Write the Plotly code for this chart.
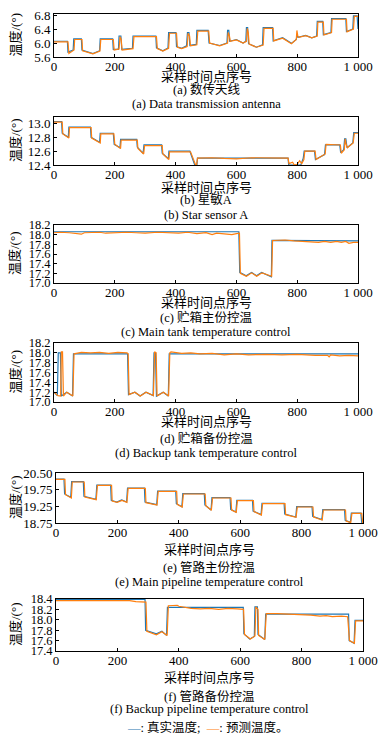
import plotly.graph_objects as go

# ---------------- data ----------------
X_TICKS = [0, 200, 400, 600, 800, 1000]
X_TICKTEXT = ["0", "200", "400", "600", "800", "1 000"]

# (a) 数传天线
A_X_TRUE = [0, 44, 46, 60, 63, 65, 90, 92, 128, 150, 152, 193, 195, 212, 214, 220, 223, 258, 260, 335, 337, 358, 375, 377,
            401, 403, 420, 436, 439, 444, 447, 468, 470, 507, 510, 545, 569, 571, 575, 578, 600, 622, 631, 633, 637, 640,
            666, 686, 688, 719, 721, 752, 781, 797, 799, 803, 828, 848, 864, 866, 884, 886, 911, 913, 960, 962, 983, 985,
            997, 1000]
A_Y_TRUE = [6.05, 6.05, 5.74, 5.8, 5.8, 6.12, 6.12, 5.8, 5.7, 5.78, 6.12, 6.12, 5.82, 5.82, 6.2, 6.2, 5.82, 5.85, 6.2, 6.2,
            5.86, 5.78, 5.86, 6.3, 6.3, 5.9, 5.85, 5.92, 6.3, 6.3, 5.93, 5.96, 6.36, 6.36, 6.0, 5.93, 6.0, 6.36, 6.36, 6.05,
            6.1, 6.0, 6.05, 6.44, 6.44, 5.98, 5.88, 5.95, 6.44, 6.44, 6.06, 6.15, 5.99, 6.1, 6.22, 6.16, 6.22, 6.15, 6.2,
            6.62, 6.62, 6.24, 6.3, 6.7, 6.7, 6.33, 6.4, 6.78, 6.78, 6.4]
A_X_PRED = [0, 46, 49, 62, 66, 68, 92, 94, 128, 151, 154, 195, 198, 214, 217, 221, 224, 260, 263, 337, 340, 358, 377, 380,
            403, 406, 420, 438, 441, 446, 449, 470, 473, 509, 512, 545, 571, 573, 577, 580, 600, 622, 633, 636, 639, 642,
            666, 688, 691, 721, 723, 752, 781, 797, 799, 802, 805, 828, 848, 866, 868, 886, 888, 913, 915, 962, 964, 985,
            988, 1000]
A_Y_PRED = [6.03, 6.03, 5.7, 5.78, 5.8, 6.1, 6.1, 5.78, 5.69, 5.77, 6.1, 6.1, 5.8, 5.83, 6.18, 6.1, 5.8, 5.84, 6.18, 6.18,
            5.84, 5.77, 5.85, 6.28, 6.28, 5.88, 5.84, 5.9, 6.28, 6.2, 5.92, 5.95, 6.34, 6.34, 6.0, 5.92, 6.0, 6.3, 6.2, 6.05,
            6.09, 6.0, 6.05, 6.42, 6.3, 5.97, 5.88, 5.94, 6.42, 6.42, 6.06, 6.14, 5.98, 6.1, 6.36, 6.2, 6.16, 6.21, 6.15,
            6.2, 6.6, 6.6, 6.23, 6.3, 6.68, 6.68, 6.32, 6.4, 6.76, 6.76]

# (b) 星敏A
B_X_TRUE = [0, 25, 27, 47, 49, 120, 122, 150, 152, 195, 198, 217, 219, 272, 274, 293, 296, 354, 356, 376, 378, 447, 463,
            470, 472, 770, 772, 812, 820, 823, 857, 860, 890, 893, 940, 943, 953, 956, 960, 964, 983, 986, 1000]
B_Y_TRUE = [13.03, 13.03, 12.86, 12.8, 12.95, 12.95, 12.8, 12.73, 12.86, 12.86, 12.7, 12.65, 12.77, 12.77, 12.66, 12.57,
            12.69, 12.69, 12.57, 12.49, 12.6, 12.6, 12.4, 12.4, 12.5, 12.5, 12.4, 12.4, 12.5, 12.6, 12.6, 12.48, 12.55,
            12.69, 12.69, 12.58, 12.62, 12.78, 12.78, 12.65, 12.72, 12.87, 12.87]
B_X_PRED = [0, 27, 29, 49, 51, 122, 124, 152, 154, 197, 200, 219, 221, 274, 276, 295, 298, 356, 358, 378, 380, 449, 465,
            469, 472, 520, 560, 600, 650, 700, 740, 770, 773, 785, 790, 800, 808, 815, 822, 825, 859, 862, 892, 895, 942,
            945, 955, 958, 961, 965, 984, 988, 1000]
B_Y_PRED = [13.02, 13.02, 12.85, 12.79, 12.94, 12.94, 12.79, 12.72, 12.85, 12.85, 12.7, 12.64, 12.76, 12.76, 12.64, 12.56,
            12.68, 12.68, 12.56, 12.48, 12.59, 12.59, 12.41, 12.4, 12.5, 12.505, 12.495, 12.49, 12.505, 12.5, 12.495,
            12.5, 12.42, 12.44, 12.4, 12.41, 12.46, 12.42, 12.48, 12.6, 12.6, 12.48, 12.56, 12.7, 12.69, 12.57, 12.62,
            12.78, 12.7, 12.65, 12.72, 12.86, 12.86]

# (c) 贮箱主份控温
C_X_TRUE = [0, 608, 611, 632, 650, 666, 683, 715, 717, 1000]
C_Y_TRUE = [18.06, 18.06, 17.22, 17.15, 17.22, 17.15, 17.22, 17.13, 17.88, 17.87]
C_X_PRED = [0, 20, 50, 80, 90, 100, 150, 170, 200, 240, 270, 300, 340, 380, 410, 440, 470, 500, 520, 535, 560, 585, 600,
            610, 613, 633, 650, 667, 684, 716, 719, 760, 790, 820, 850, 870, 890, 910, 930, 945, 960, 970, 985, 1000]
C_Y_PRED = [18.04, 18.05, 18.04, 18.02, 18.01, 18.04, 18.05, 18.03, 18.04, 18.05, 18.04, 18.03, 18.05, 18.04, 18.03,
            18.05, 18.02, 18.04, 18.0, 18.03, 18.01, 18.0, 18.02, 18.03, 17.2, 17.14, 17.21, 17.14, 17.21, 17.14, 17.88,
            17.89, 17.87, 17.86, 17.86, 17.84, 17.86, 17.84, 17.86, 17.84, 17.86, 17.82, 17.84, 17.84]

# (d) 贮箱备份控温
D_X_TRUE = [0, 11, 14, 21, 24, 42, 61, 64, 242, 245, 266, 283, 302, 326, 329, 334, 337, 359, 376, 379, 1000]
D_Y_TRUE = [17.2, 17.13, 18.0, 18.0, 17.12, 17.2, 17.12, 17.98, 17.98, 17.15, 17.2, 17.12, 17.2, 17.13, 18.0, 18.0,
            17.12, 17.2, 17.12, 17.98, 17.98]
D_X_PRED = [0, 13, 22, 24, 28, 31, 42, 62, 66, 90, 120, 150, 180, 210, 240, 244, 247, 266, 284, 303, 327, 331, 336, 339,
            360, 377, 381, 385, 420, 450, 480, 520, 560, 600, 640, 700, 750, 800, 860, 900, 905, 910, 940, 970, 1000]
D_Y_PRED = [17.2, 17.13, 17.12, 18.02, 18.02, 17.12, 17.2, 17.12, 17.98, 18.01, 18.0, 18.01, 17.99, 18.01, 18.0, 17.98,
            17.15, 17.2, 17.12, 17.2, 17.13, 18.02, 18.0, 17.12, 17.2, 17.12, 18.0, 18.02, 17.99, 18.0, 17.98, 17.99,
            17.96, 17.98, 17.96, 17.97, 17.96, 17.97, 17.95, 17.95, 17.92, 17.96, 17.94, 17.95, 17.94]

# (e) 管路主份控温
E_TICKVALS = [18.75, 19.25, 19.75, 20.25]
E_TICKTEXT = ["18.75", "19.25", "19.75", "20.50"]
E_X_TRUE = [0, 26, 28, 48, 51, 89, 91, 130, 133, 178, 180, 198, 214, 230, 233, 288, 290, 328, 331, 390, 392, 410, 413,
            483, 485, 505, 508, 567, 569, 586, 589, 640, 642, 668, 671, 743, 745, 781, 784, 834, 836, 866, 869, 940,
            942, 959, 962, 993, 996]
E_Y_TRUE = [20.07, 20.07, 19.62, 19.52, 19.99, 19.99, 19.55, 19.46, 19.89, 19.89, 19.43, 19.38, 19.44, 19.38, 19.8,
            19.8, 19.38, 19.3, 19.71, 19.71, 19.33, 19.24, 19.63, 19.63, 19.29, 19.14, 19.51, 19.51, 19.16, 19.08,
            19.43, 19.43, 19.11, 19.0, 19.34, 19.34, 19.02, 18.93, 19.24, 19.24, 18.95, 18.85, 19.15, 19.15, 18.83,
            18.77, 19.05, 19.05, 18.75]
E_X_PRED = [0, 29, 31, 50, 53, 92, 94, 131, 135, 181, 183, 199, 215, 231, 235, 291, 293, 329, 333, 393, 395, 411, 415,
            486, 488, 506, 510, 570, 572, 587, 591, 643, 645, 669, 673, 746, 748, 782, 786, 837, 839, 867, 871, 943,
            945, 960, 964, 996, 999]
E_Y_PRED = [20.06, 20.06, 19.6, 19.5, 19.98, 19.98, 19.53, 19.45, 19.88, 19.88, 19.41, 19.37, 19.43, 19.37, 19.79,
            19.79, 19.36, 19.29, 19.7, 19.7, 19.31, 19.23, 19.62, 19.62, 19.27, 19.13, 19.5, 19.5, 19.14, 19.07,
            19.42, 19.42, 19.09, 18.99, 19.33, 19.33, 19.0, 18.92, 19.23, 19.23, 18.93, 18.84, 19.14, 19.14, 18.81,
            18.76, 19.04, 19.04, 18.75]

# (f) 管路备份控温
F_X_TRUE = [0, 290, 292, 327, 345, 360, 363, 610, 612, 631, 646, 648, 656, 658, 680, 683, 953, 955, 971, 974, 1000]
F_Y_TRUE = [18.39, 18.39, 17.8, 17.73, 17.78, 17.7, 18.24, 18.24, 17.73, 17.63, 17.68, 18.25, 18.25, 17.72, 17.62,
            18.11, 18.11, 17.6, 17.55, 17.99, 17.99]
F_X_PRED = [0, 40, 60, 100, 150, 200, 240, 260, 288, 293, 296, 327, 345, 362, 366, 395, 400, 420, 440, 470, 500, 530,
            560, 590, 611, 614, 633, 648, 651, 658, 660, 680, 685, 720, 760, 800, 830, 860, 880, 900, 930, 950, 956,
            972, 976, 1000]
F_Y_PRED = [18.37, 18.37, 18.36, 18.37, 18.37, 18.36, 18.37, 18.35, 18.34, 18.34, 17.78, 17.71, 17.77, 17.7, 18.27,
            18.28, 18.26, 18.24, 18.22, 18.21, 18.22, 18.2, 18.22, 18.21, 18.2, 17.72, 17.63, 17.69, 18.25, 18.2, 17.7,
            17.62, 18.12, 18.12, 18.11, 18.1, 18.09, 18.07, 18.08, 18.06, 18.07, 18.06, 17.6, 17.55, 17.98, 17.98]

CAPTIONS_ZH = ["(a) 数传天线", "(b) 星敏A", "(c) 贮箱主份控温", "(d) 贮箱备份控温", "(e) 管路主份控温", "(f) 管路备份控温"]
CAPTIONS_EN = ["(a) Data transmission antenna", "(b) Star sensor A", "(c) Main tank temperature control",
               "(d) Backup tank temperature control", "(e) Main pipeline temperature control",
               "(f) Backup pipeline temperature control"]
X_TITLE = "采样时间点序号"
Y_TITLE = "温度/(°)"
LEGEND_TEXT = ("<span style='color:#1f77b4'>—</span>: 真实温度;  "
               "<span style='color:#ff7f0e'>—</span>: 预测温度。")

# ---------------- layout constants ----------------
# The page body has an 8 px margin, so the figure is drawn 8 px in from the window edge.
OFF = 8
W, H = 386 - OFF, 742 - OFF
BLUE, ORANGE = "#1f77b4", "#ff7f0e"
FONT = "Liberation Serif, Noto Sans CJK SC, serif"

# positions given in window pixels
panels = [
    dict(xt=A_X_TRUE, yt=A_Y_TRUE, xp=A_X_PRED, yp=A_Y_PRED, rng=[5.6, 6.83], dtick=0.4, tv=None, tt=None,
         px=(54, 358), py=(14, 57), title_y=76, zh_y=90, en_y=104, tfs=13),
    dict(xt=B_X_TRUE, yt=B_Y_TRUE, xp=B_X_PRED, yp=B_Y_PRED, rng=[12.4, 13.095], dtick=0.2, tv=None, tt=None,
         px=(54, 358), py=(117, 165), title_y=187, zh_y=200, en_y=215, tfs=13),
    dict(xt=C_X_TRUE, yt=C_Y_TRUE, xp=C_X_PRED, yp=C_Y_PRED, rng=[17.0, 18.2], dtick=0.2, tv=None, tt=None,
         px=(54, 358), py=(225, 283), title_y=302, zh_y=317, en_y=332, tfs=12.5),
    dict(xt=D_X_TRUE, yt=D_Y_TRUE, xp=D_X_PRED, yp=D_Y_PRED, rng=[17.0, 18.2], dtick=0.2, tv=None, tt=None,
         px=(54, 358), py=(343, 402), title_y=421, zh_y=438, en_y=453, tfs=12.5),
    dict(xt=E_X_TRUE, yt=E_Y_TRUE, xp=E_X_PRED, yp=E_Y_PRED, rng=[18.75, 20.25], dtick=None, tv=E_TICKVALS,
         tt=E_TICKTEXT, px=(56, 363), py=(473, 523), title_y=549, zh_y=567, en_y=582, tfs=13),
    dict(xt=F_X_TRUE, yt=F_Y_TRUE, xp=F_X_PRED, yp=F_Y_PRED, rng=[17.4, 18.4], dtick=0.2, tv=None, tt=None,
         px=(56, 363), py=(599, 651), title_y=677, zh_y=696, en_y=709, tfs=12.5),
]


def fx(p):
    return (p - OFF) / W


def fy(p):
    return 1 - (p - OFF) / H


fig = go.Figure()
annotations = []

for i, p in enumerate(panels):
    n = "" if i == 0 else str(i + 1)
    xa, ya = "x" + n, "y" + n
    fig.add_trace(go.Scatter(x=p["xt"], y=p["yt"], mode="lines", line=dict(color=BLUE, width=1.2),
                             xaxis=xa, yaxis=ya, showlegend=False, name="真实温度"))
    fig.add_trace(go.Scatter(x=p["xp"], y=p["yp"], mode="lines", line=dict(color=ORANGE, width=1.2),
                             xaxis=xa, yaxis=ya, showlegend=False, name="预测温度"))
    xd = [fx(p["px"][0]), fx(p["px"][1])]
    yd = [fy(p["py"][1]), fy(p["py"][0])]
    common = dict(showline=True, linecolor="black", linewidth=1, mirror=True, ticks="inside", ticklen=3,
                  tickwidth=1, tickcolor="black", showgrid=False, zeroline=False, automargin=False,
                  ticklabeloverflow="allow")
    xaxis = dict(domain=xd, range=[0, 1000], tickvals=X_TICKS, ticktext=X_TICKTEXT, anchor=ya,
                 ticklabelstandoff=-3, tickfont=dict(family=FONT, size=13, color="black"), **common)
    yaxis = dict(domain=yd, range=p["rng"], anchor=xa,
                 tickfont=dict(family=FONT, size=p["tfs"], color="black"), **common)
    if p["tv"] is not None:
        yaxis.update(tickvals=p["tv"], ticktext=p["tt"])
    else:
        yaxis.update(tick0=p["rng"][0], dtick=p["dtick"], tickformat=".1f")
    fig.update_layout({"xaxis" + n: xaxis, "yaxis" + n: yaxis})

    cx = (xd[0] + xd[1]) / 2
    for txt, yy, sz in [(X_TITLE, p["title_y"], 13), (CAPTIONS_ZH[i], p["zh_y"], 12.5),
                        (CAPTIONS_EN[i], p["en_y"], 12.5)]:
        annotations.append(dict(text=txt, x=cx, y=fy(yy), xref="paper", yref="paper", showarrow=False,
                                xanchor="center", yanchor="middle", font=dict(family=FONT, size=sz, color="black")))
    annotations.append(dict(text=Y_TITLE, x=fx(15), y=fy((p["py"][0] + p["py"][1]) / 2), xref="paper",
                            yref="paper", showarrow=False, textangle=-90, xanchor="center", yanchor="middle",
                            font=dict(family=FONT, size=13, color="black")))

annotations.append(dict(text=LEGEND_TEXT, x=fx(207), y=fy(727), xref="paper", yref="paper", showarrow=False,
                        xanchor="center", yanchor="middle", font=dict(family=FONT, size=12.5, color="black")))

fig.update_layout(width=W, height=H, autosize=False, margin=dict(l=0, r=0, t=0, b=0, autoexpand=False),
                  paper_bgcolor="white", plot_bgcolor="white", annotations=annotations, showlegend=False)

fig.write_html("out.html")
